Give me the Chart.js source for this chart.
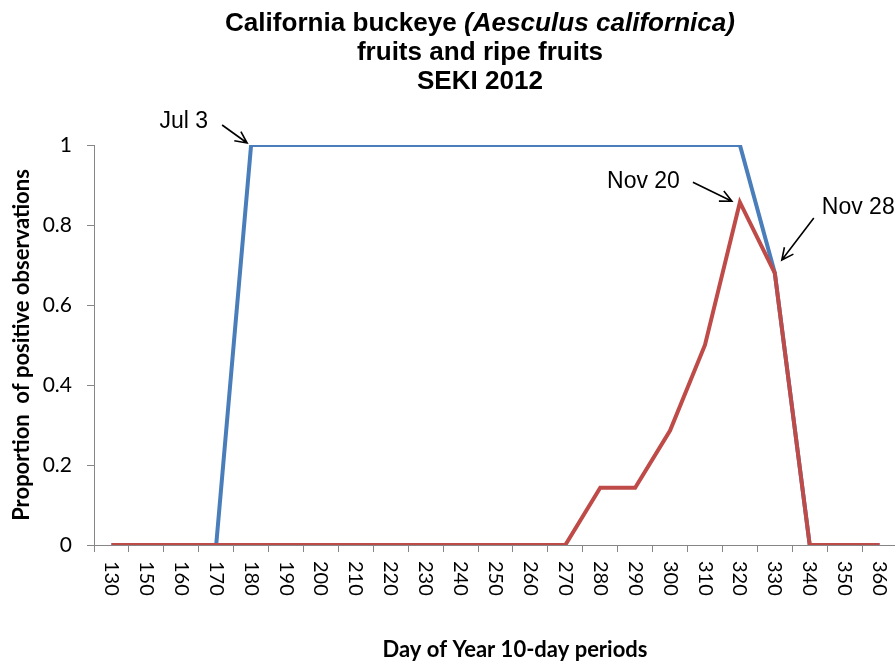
<!DOCTYPE html>
<html><head><meta charset="utf-8">
<script src="https://cdn.jsdelivr.net/npm/chart.js@4/dist/chart.umd.min.js"></script>
<style>html,body{margin:0;padding:0;background:#fff;overflow:hidden}#wrap{width:905px;height:664px}</style>
</head><body><div id="wrap"><canvas id="c" width="905" height="664"></canvas></div>
<script>
// ---- data ----
const days = ['130','150','160','170','180','190','200','210','220','230','240','250','260','270','280','290','300','310','320','330','340','350','360'];
const fruits =      [0,0,0,0,1,1,1,1,1,1,1,1,1,1,1,1,1,1,1,0.68,0,0,0];
const ripeFruits =  [0,0,0,0,0,0,0,0,0,0,0,0,0,0,0.143,0.143,0.286,0.5,0.857,0.68,0,0,0];
const yTickValues = [0,0.2,0.4,0.6,0.8,1];
const titleLines = ['California buckeye ', '(Aesculus californica)', 'fruits and ripe fruits', 'SEKI 2012'];
const yTitle = 'Proportion  of positive observations';
const xTitle = 'Day of Year 10-day periods';
const noteTexts = ['Jul 3', 'Nov 20', 'Nov 28'];
const noteIndex = [4, 18, 19];
const noteSeries = ['fruits', 'ripe', 'ripe'];

// ---- styling / layout (not data) ----
const noteLayout = [
  {tx:-43, ty:-23, align:'right', ax1:-29, ay1:-20, ax2:-4, ay2:-2},
  {tx:-60, ty:-21, align:'right', ax1:-47, ay1:-20, ax2:-8, ay2:-1},
  {tx:47,  ty:-65, align:'left',  ax1:39,  ay1:-55, ax2:7,  ay2:-13}
];
const AXIS = '#868686';

function arrow(ctx, x1, y1, x2, y2){
  const a = Math.atan2(y2-y1, x2-x1), L = 13, w = Math.PI/7;
  ctx.beginPath();
  ctx.moveTo(x1,y1); ctx.lineTo(x2,y2);
  ctx.moveTo(x2 - L*Math.cos(a-w), y2 - L*Math.sin(a-w));
  ctx.lineTo(x2,y2);
  ctx.lineTo(x2 - L*Math.cos(a+w), y2 - L*Math.sin(a+w));
  ctx.stroke();
}

const textPlugin = {
  id:'texts',
  afterDraw(chart){
    const ctx = chart.ctx, xs = chart.scales.x, ys = chart.scales.y;
    ctx.save();
    ctx.fillStyle = '#000';
    // title
    const cx = 480;
    ctx.textBaseline = 'middle';
    const fN = 'bold 25px "Liberation Sans", Arial, sans-serif';
    const fI = 'italic bold 25px "Liberation Sans", Arial, sans-serif';
    ctx.font = fN; const w1 = ctx.measureText(titleLines[0]).width;
    ctx.font = fI; const w2 = ctx.measureText(titleLines[1]).width;
    const sx = 510/(w1+w2);
    ctx.save(); ctx.translate(cx, 24); ctx.scale(sx,1);
    ctx.textAlign = 'left';
    ctx.font = fN; ctx.fillText(titleLines[0], -(w1+w2)/2, 0);
    ctx.font = fI; ctx.fillText(titleLines[1], -(w1+w2)/2 + w1, 0);
    ctx.restore();
    ctx.textAlign = 'center';
    [[titleLines[2],53],[titleLines[3],82]].forEach(([t,y])=>{
      ctx.save(); ctx.translate(cx,y); ctx.scale(sx,1); ctx.font = fN; ctx.fillText(t,0,0); ctx.restore();
    });
    // x tick labels rotated clockwise
    ctx.font = '20px Lato, "Liberation Sans", sans-serif';
    ctx.textAlign = 'left'; ctx.textBaseline = 'middle';
    days.forEach((d,i)=>{
      const x = xs.getPixelForValue(i);
      ctx.save(); ctx.translate(x, xs.top + 16); ctx.rotate(Math.PI/2); ctx.fillText(d,0,0); ctx.restore();
    });
    // axis titles
    ctx.font = 'bold 22px Lato, "Liberation Sans", sans-serif';
    ctx.textAlign = 'center';
    ctx.fillText(xTitle, 515, 650);
    ctx.save(); ctx.translate(22, (ys.top+ys.bottom)/2); ctx.rotate(-Math.PI/2); ctx.fillText(yTitle,0,0); ctx.restore();
    // annotations
    ctx.font = '23px "Liberation Sans", Arial, sans-serif';
    ctx.strokeStyle = '#000'; ctx.lineWidth = 1.6;
    noteTexts.forEach((t,k)=>{
      const i = noteIndex[k];
      const v = noteSeries[k]==='fruits' ? fruits[i] : ripeFruits[i];
      const px = xs.getPixelForValue(i), py = ys.getPixelForValue(v);
      const L = noteLayout[k];
      ctx.textAlign = L.align; ctx.textBaseline = 'middle';
      ctx.fillText(t, px+L.tx, py+L.ty);
      arrow(ctx, px+L.ax1, py+L.ay1, px+L.ax2, py+L.ay2);
    });
    ctx.restore();
  }
};

new Chart(document.getElementById('c'), {
  type:'line',
  data:{
    labels: days,
    datasets:[
      {label:'Fruits', data: fruits, borderColor:'#4A7EBB', borderWidth:4, pointRadius:0, tension:0, fill:false, order:2},
      {label:'Ripe fruits', data: ripeFruits, borderColor:'#BE4B48', borderWidth:4, pointRadius:0, tension:0, fill:false, order:1}
    ]
  },
  options:{
    responsive:false, animation:false,
    layout:{padding:{top:145, left:0, right:8, bottom:0}},
    plugins:{legend:{display:false}, tooltip:{enabled:false}, title:{display:false}},
    scales:{
      x:{
        offset:true,
        grid:{display:true, drawOnChartArea:false, offset:true, tickLength:7, color:AXIS},
        border:{color:AXIS, width:1},
        ticks:{autoSkip:false, maxRotation:0, callback:()=>''},
        afterFit(s){ s.height = 119; }
      },
      y:{
        min:0, max:1,
        afterBuildTicks(s){ s.ticks = yTickValues.map(v=>({value:v})); },
        grid:{display:true, drawOnChartArea:false, tickLength:7, color:AXIS},
        border:{color:AXIS, width:1},
        ticks:{color:'#000', padding:15, font:{family:'Lato, "Liberation Sans", sans-serif', size:21},
               callback:(v)=>String(Math.round(v*10)/10)},
        afterFit(s){ s.width = 94; }
      }
    }
  },
  plugins:[textPlugin]
});
</script></body></html>
